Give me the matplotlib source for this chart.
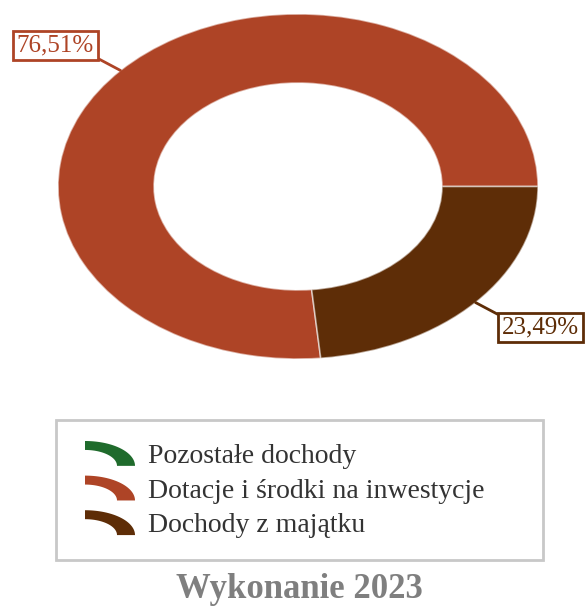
#!/usr/bin/env python3
"""
Donut chart of 2023 income structure (Wykonanie 2023).
"""

import numpy as np
import matplotlib
matplotlib.use("Agg")
import matplotlib.pyplot as plt
from matplotlib.patches import Polygon, Rectangle
from matplotlib.legend_handler import HandlerBase

# Data
categories = ["Pozostałe dochody", "Dotacje i środki na inwestycje", "Dochody z majątku"]
shares = [0.0, 76.51, 23.49]
colors = ["#1F6B2C", "#AE4426", "#5E2D07"]
title = "Wykonanie 2023"

plt.rcParams["font.family"] = ["Liberation Serif", "DejaVu Serif"]

W, H = 587, 608


def fig_box(x0, y0, x1, y1):
    """Pixel box (top-left origin) -> figure fraction rect."""
    return [x0 / W, (H - y1) / H, (x1 - x0) / W, (y1 - y0) / H]


class ArcHandler(HandlerBase):
    """Draw legend keys as a quarter of a ring, like the donut itself."""

    def create_artists(self, legend, orig_handle, xdescent, ydescent,
                       width, height, fontsize, trans):
        x0, y0 = -xdescent, -ydescent
        t = np.linspace(np.pi / 2, 0, 40)
        outer = np.column_stack([x0 + width * np.cos(t), y0 + height * np.sin(t)])
        inner = np.column_stack([x0 + 0.64 * width * np.cos(t[::-1]),
                                 y0 + 0.64 * height * np.sin(t[::-1])])
        p = Polygon(np.vstack([outer, inner]), closed=True,
                    facecolor=orig_handle.get_facecolor(), edgecolor="none",
                    transform=trans)
        return [p]


fig = plt.figure(figsize=(W / 100, H / 100), dpi=100)
fig.patch.set_facecolor("white")

# Donut (stretched into an ellipse by using an axes with auto aspect)
ax = fig.add_axes(fig_box(58, 14, 538, 359))
wedges, _ = ax.pie(shares, colors=colors, radius=1, startangle=0,
                   counterclock=True,
                   wedgeprops=dict(width=0.4, edgecolor=(1, 1, 1, 0.55), linewidth=1.2))
ax.set_aspect("auto")
ax.set_xlim(-1, 1)
ax.set_ylim(-1, 1)
ax.axis("off")

# Percentage labels with leader lines
for w, val, col in zip(wedges, shares, colors):
    if val <= 0:
        continue
    ang = np.deg2rad((w.theta1 + w.theta2) / 2)
    cx, cy = np.cos(ang), np.sin(ang)
    sx, sy = np.sign(cx), np.sign(cy)
    ax.annotate(f"{val:.2f}%".replace(".", ","), xy=(cx, cy),
                xytext=(sx * 65, sy * 25), textcoords="offset pixels",
                ha="center", va="center", fontsize=18, color=col,
                bbox=dict(boxstyle="square,pad=0.14", facecolor="white",
                          edgecolor=col, linewidth=2),
                arrowprops=dict(arrowstyle="-", color=col, linewidth=2,
                                shrinkA=0, shrinkB=0,
                                relpos=((1 - sx) / 2, (1 - sy) / 2)),
                annotation_clip=False)

# Legend frame
fig.patches.append(Rectangle((56 / W, (H - 560) / H), 487 / W, 140 / H,
                             transform=fig.transFigure, facecolor="white",
                             edgecolor="#C8C8C8", linewidth=2))

leg = fig.legend(wedges, categories, handler_map={type(wedges[0]): ArcHandler()},
                 loc="upper left", bbox_to_anchor=(85 / W, (H - 441) / H),
                 frameon=False, fontsize=20, handlelength=1.8, handleheight=1.0,
                 handletextpad=0.45, labelspacing=0.24, borderpad=0, borderaxespad=0)
for txt in leg.get_texts():
    txt.set_color("#333333")

fig.text(299 / W, (H - 598) / H, title, ha="center", va="baseline",
         fontsize=25, fontweight="bold", color="#7F7F7F")

fig.savefig("out.png", dpi=100, facecolor="white")
plt.close(fig)
